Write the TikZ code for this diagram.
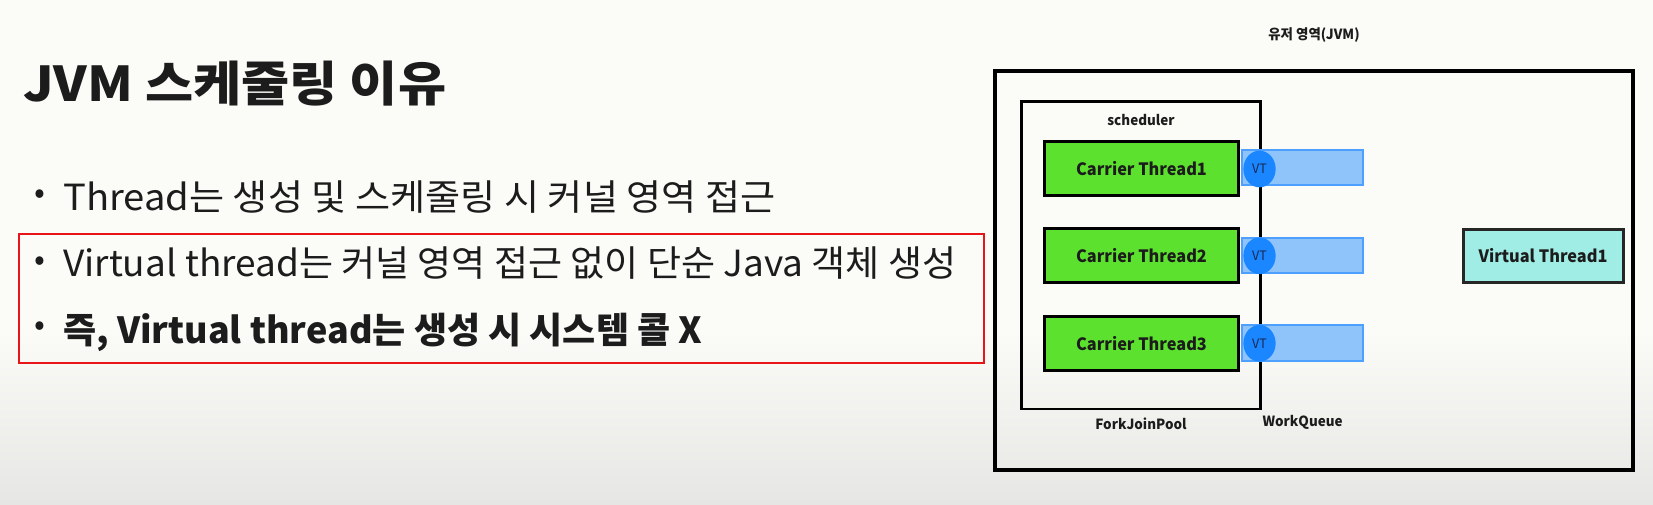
\documentclass[tikz,border=0pt]{standalone}
\usepackage{graphicx}
\usepackage{fontspec}
\setmainfont{Noto Sans CJK KR}
\newfontfamily\txtfont{Noto Sans CJK KR}
\newfontfamily\dfont{Noto Sans CJK KR}[FakeStretch=0.96]
\usetikzlibrary{shapes.geometric}
\definecolor{bgtop}{HTML}{FBFBF8}
\definecolor{bgbot}{HTML}{E6E6E4}
\definecolor{ctgreen}{HTML}{5CE22E}
\definecolor{qfill}{HTML}{8FC4FB}
\definecolor{qline}{HTML}{4DA0FF}
\definecolor{vtblue}{HTML}{1A86FF}
\definecolor{vtcyan}{HTML}{9FEDE4}
\definecolor{txt}{HTML}{1C1C1C}
\definecolor{vttxt}{HTML}{1A2850}
\definecolor{redbox}{HTML}{E8141A}
\tikzset{
  pbox/.style={draw=black, rectangle, inner sep=0pt, outer sep=0pt},
  ctbox/.style={pbox, fill=ctgreen, line width=3pt, minimum width=194pt, minimum height=54pt,
     font=\dfont\bfseries\fontsize{17}{19}\selectfont, text=txt},
  qbox/.style={rectangle, draw=qline, fill=qfill, line width=2pt, inner sep=0pt,
     minimum width=120.4pt, minimum height=35.5pt},
  vtdot/.style={ellipse, fill=vtblue, inner sep=0pt, minimum width=32.3pt, minimum height=36.7pt,
     font=\dfont\fontsize{13}{14}\selectfont, text=vttxt},
  dlabel/.style={inner sep=0pt, font=\dfont\bfseries\fontsize{14}{16}\selectfont, text=txt},
  bullettext/.style={anchor=base west, inner sep=0pt, text=txt, font=\txtfont\fontsize{36}{40}\selectfont},
  bulletdot/.style={inner sep=0pt, text=txt, font=\txtfont\fontsize{32}{36}\selectfont}
}
\begin{document}
\begin{tikzpicture}[x=1pt,y=-1pt]
\useasboundingbox (0,0) rectangle (1653,505);
\fill[bgtop] (0,0) rectangle (1653,505);
\shade[top color=bgtop, bottom color=bgbot] (0,330) rectangle (1653,505);

% left text
\node[anchor=base west, inner sep=0pt, text=txt, font=\txtfont\bfseries\fontsize{48}{52}\selectfont] (title) at (23,101.7) {\scalebox{1.09}[1]{JVM 스케줄링 이유}};

\node[bulletdot] (b1) at (40,196.7) {•};
\node[bullettext] (t1) at (63,210) {\scalebox{1.06}[1]{Thread는 생성 및 스케줄링 시 커널 영역 접근}};
\node[bulletdot] (b2) at (40,263.3) {•};
\node[bullettext] (t2) at (63,276.7) {\scalebox{1.028}[1]{Virtual thread는 커널 영역 접근 없이 단순 Java 객체 생성}};
\node[bulletdot] (b3) at (40,328.5) {•};
\node[bullettext, font=\txtfont\bfseries\fontsize{36}{40}\selectfont] (t3) at (63,343.3) {즉, Virtual thread는 생성 시 시스템 콜 X};

\node[rectangle, draw=redbox, line width=2pt, inner sep=0pt, minimum width=965pt, minimum height=129pt] (red) at (501.3,298.5) {};

% right diagram
\node[dlabel] (jvmlabel) at (1314,35) {유저 영역(JVM)};
\node[pbox, line width=4pt, minimum width=638.5pt, minimum height=399pt] (jvm) at (1313.75,270.5) {};
\node[pbox, line width=2.5pt, minimum width=238.9pt, minimum height=307.5pt] (sched) at (1141.15,255.25) {};
\node[dlabel] (schedlabel) at (1141,120.5) {scheduler};
\node[dlabel] (fjp) at (1141,423.5) {ForkJoinPool};
\node[dlabel] (wq) at (1302.6,422) {WorkQueue};

\node[ctbox] (ct1) at (1141.5,168.3) {Carrier Thread1};
\node[ctbox] (ct2) at (1141.5,255.75) {Carrier Thread2};
\node[ctbox] (ct3) at (1141.5,343.25) {Carrier Thread3};

\node[qbox] (q1) at (1302.5,167.6) {};
\node[qbox] (q2) at (1302.5,255.5) {};
\node[qbox] (q3) at (1302.5,343) {};

\node[vtdot] (vt1) at (1259.5,169) {VT};
\node[vtdot] (vt2) at (1259.5,255.8) {VT};
\node[vtdot] (vt3) at (1259.5,343.3) {VT};

\node[pbox, fill=vtcyan, draw=black!85, line width=3pt, minimum width=160pt, minimum height=53.7pt,
  font=\dfont\bfseries\fontsize{17}{19}\selectfont, text=txt] (virt) at (1543,255.9) {Virtual Thread1};
\end{tikzpicture}
\end{document}
